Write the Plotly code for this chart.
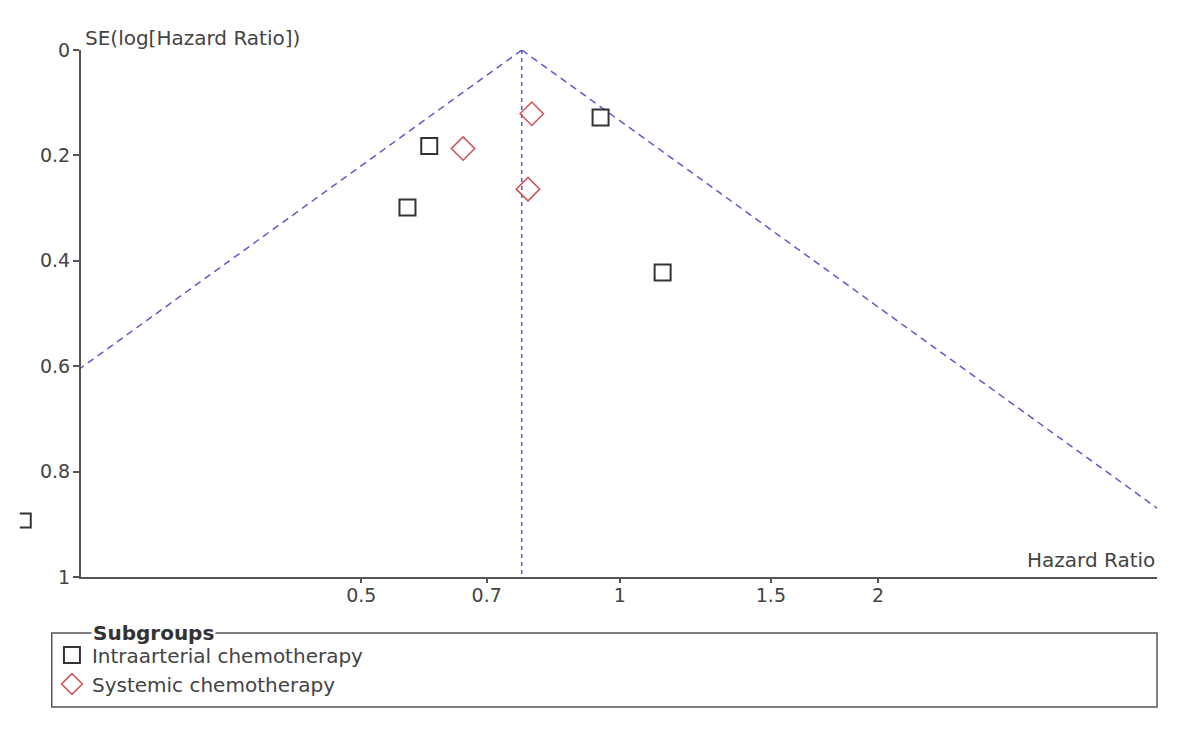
import numpy as np
import plotly.graph_objects as go

# study estimates
intra_hr = [0.600, 0.566, 0.950, 1.122, 0.2017]
intra_se = [0.182, 0.299, 0.128, 0.422, 0.893]
syst_hr = [0.790, 0.657, 0.782]
syst_se = [0.121, 0.187, 0.264]

pooled_hr = 0.769
x_ticks = [0.5, 0.7, 1, 1.5, 2]
x_tick_labels = ["0.5", "0.7", "1", "1.5", "2"]
y_ticks = [0, 0.2, 0.4, 0.6, 0.8, 1]

FONT = "DejaVu Sans"
TXT = "#444444"
AX = "#555555"
FUNNEL = "#5b5bd0"
SQ = "#333333"
RED = "#d05252"

x_lo, x_hi = 0.2358, 4.225
x_range = [np.log10(x_lo), np.log10(x_hi)]

fig = go.Figure()

# funnel limits (pseudo 95% CI) and pooled estimate line
se_line = np.array([0.0, 1.0])
for side in (-1, 1):
    fig.add_trace(go.Scatter(
        x=pooled_hr * np.exp(side * 1.96 * se_line), y=se_line, mode="lines",
        line=dict(color=FUNNEL, width=1.5, dash="7px,5px"),
        showlegend=False, hoverinfo="skip",
    ))
fig.add_trace(go.Scatter(
    x=[pooled_hr, pooled_hr], y=se_line, mode="lines",
    line=dict(color=FUNNEL, width=1.5, dash="4px,4px"),
    showlegend=False, hoverinfo="skip",
))

fig.add_trace(go.Scatter(
    x=intra_hr, y=intra_se, mode="markers", name="Intraarterial chemotherapy",
    marker=dict(symbol="square-open", size=16, color=SQ,
                line=dict(width=2, color=SQ)),
))
fig.add_trace(go.Scatter(
    x=syst_hr, y=syst_se, mode="markers", name="Systemic chemotherapy",
    marker=dict(symbol="diamond-open", size=18, color=RED,
                line=dict(width=1.5, color=RED)),
))

# studies falling left of the x range are drawn in the margin, half cut off
shapes = []
for hr, se in zip(intra_hr, intra_se):
    if hr < x_lo:
        px = (np.log10(hr) - x_range[0]) / (x_range[1] - x_range[0])
        shapes.append(dict(
            type="path", xref="paper", yref="y",
            xsizemode="pixel", ysizemode="pixel", xanchor=px, yanchor=se,
            path="M -3 -7 L 8 -7 L 8 7 L -3 7",
            line=dict(color=SQ, width=2),
        ))

shapes.append(dict(type="rect", xref="paper", yref="paper",
                   x0=-0.0272, x1=1.0, y0=-0.2467, y1=-0.1063,
                   line=dict(color=AX, width=1.5), fillcolor="rgba(0,0,0,0)"))

axis_font = dict(family=FONT, size=19, color=TXT)

fig.update_layout(
    width=1200, height=734,
    margin=dict(l=73, r=51, t=42, b=165),
    paper_bgcolor="white", plot_bgcolor="white",
    font=dict(family=FONT, size=20, color=TXT),
    xaxis=dict(
        type="log", range=x_range, tickvals=x_ticks, ticktext=x_tick_labels,
        showgrid=False, zeroline=False, showline=True, linecolor=AX, linewidth=2,
        ticks="outside", ticklen=4, tickwidth=1.5, tickcolor=AX,
        tickfont=axis_font, ticklabelstandoff=-4,
    ),
    xaxis2=dict(
        type="log", range=x_range, tickvals=x_ticks, overlaying="x",
        showgrid=False, zeroline=False, showline=False, showticklabels=False,
        ticks="inside", ticklen=6, tickwidth=1.5, tickcolor=AX,
    ),
    yaxis=dict(
        range=[1, 0], tickvals=y_ticks,
        showgrid=False, zeroline=False, showline=True, linecolor=AX, linewidth=2,
        ticks="outside", ticklen=6, tickwidth=1.5, tickcolor=AX,
        tickfont=axis_font, ticklabelstandoff=-1,
    ),
    yaxis2=dict(
        range=[1, 0], tickvals=y_ticks, overlaying="y",
        showgrid=False, zeroline=False, showline=False, showticklabels=False,
        ticks="inside", ticklen=9, tickwidth=1.5, tickcolor=AX,
    ),
    legend=dict(
        x=-0.027, xanchor="left", y=-0.111, yanchor="top",
        bgcolor="rgba(0,0,0,0)", font=dict(family=FONT, size=20, color=TXT),
    ),
    shapes=shapes,
    annotations=[
        dict(text="SE(log[Hazard Ratio])", xref="paper", yref="paper",
             x=0.002, y=1.0228, xanchor="left", yanchor="middle",
             showarrow=False, font=dict(family=FONT, size=20, color=TXT)),
        dict(text="Hazard Ratio", xref="paper", yref="paper",
             x=1.0, y=0.032, xanchor="right", yanchor="middle",
             showarrow=False, font=dict(family=FONT, size=20, color=TXT)),
        dict(text="<b>Subgroups</b>", xref="paper", yref="paper",
             x=0.0095, y=-0.1055, xanchor="left", yanchor="middle",
             showarrow=False, bgcolor="white", borderpad=1,
             font=dict(family=FONT, size=20, color="#333333")),
    ],
)

fig.write_html("out.html")
